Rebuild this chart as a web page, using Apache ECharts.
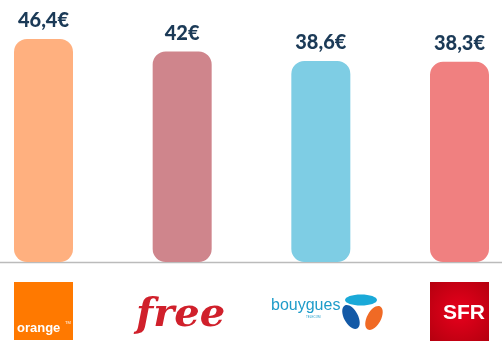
<!DOCTYPE html>
<html>
<head>
<meta charset="utf-8">
<script src="https://cdn.jsdelivr.net/npm/echarts@6/dist/echarts.min.js"></script>
<style>html,body{margin:0;padding:0;background:#fff}#c{width:502px;height:358px}</style>
</head>
<body>
<div id="c"></div>
<script>
var operators = ['Orange', 'Free', 'Bouygues Telecom', 'SFR'];
var prices = [46.4, 42, 38.6, 38.3];
var barColors = ['#FFB07F', '#CF858C', '#7ECDE4', '#F08080'];
var axisMin = -32.7;

var chart = echarts.init(document.getElementById('c'));
chart.setOption({
  animation: false,
  grid: { left: 43.5, right: 42.5, top: 39, bottom: 96 },
  xAxis: {
    type: 'category', data: operators, boundaryGap: false,
    axisLine: { show: false }, axisTick: { show: false }, axisLabel: { show: false }
  },
  yAxis: {
    type: 'value', min: axisMin, max: 46.4,
    show: false, splitLine: { show: false }
  },
  series: [{
    type: 'custom',
    data: prices.map(function (v, i) { return [i, v]; }),
    renderItem: function (params, api) {
      var i = api.value(0), v = api.value(1);
      var top = api.coord([i, v]);
      var base = api.coord([i, axisMin]);
      var w = 59;
      return {
        type: 'group',
        children: [
          { type: 'rect', shape: { x: top[0] - w / 2, y: top[1], width: w, height: base[1] - top[1], r: 13 },
            style: { fill: barColors[params.dataIndex] } },
          { type: 'text', x: top[0], y: top[1] - 8,
            style: { text: String(v).replace('.', ',') + '€', fill: '#1B3A57',
                     font: '900 20px Lato', align: 'center', verticalAlign: 'bottom' } }
        ]
      };
    }
  }],
  graphic: [
    { type: 'line', shape: { x1: 0, y1: 262.5, x2: 502, y2: 262.5 }, style: { stroke: '#BBBBBB', lineWidth: 1.5 } },
    // Orange logo
    { type: 'rect', shape: { x: 14, y: 282, width: 59, height: 58 }, style: { fill: '#FF7900' } },
    { type: 'text', x: 17, y: 335, style: { text: 'orange', fill: '#fff', font: 'bold 13px "Liberation Sans"', textVerticalAlign: 'bottom' } },
    { type: 'text', x: 65, y: 321, style: { text: 'TM', fill: '#fff', font: '4px "Liberation Sans"' } },
    // Free logo
    { type: 'text', x: 136, y: 336, style: { text: 'free', fill: '#D0202B', font: 'italic bold 40px "DejaVu Serif"', textVerticalAlign: 'bottom' } },
    // Bouygues logo
    { type: 'text', x: 271, y: 314, style: { text: 'bouygues', fill: '#1E9CC9', font: '16px "Liberation Sans"', textVerticalAlign: 'bottom' } },
    { type: 'text', x: 306, y: 316, style: { text: 'TELECOM', fill: '#1E9CC9', font: '3px "Liberation Sans"' } },
    { type: 'ellipse', shape: { cx: 361, cy: 300, rx: 16, ry: 5.5 }, style: { fill: '#1AA9D8' } },
    { type: 'ellipse', shape: { cx: 0, cy: 0, rx: 7, ry: 13 }, x: 351, y: 317, rotation: 0.5, style: { fill: '#1359A6' } },
    { type: 'ellipse', shape: { cx: 0, cy: 0, rx: 7, ry: 13 }, x: 374, y: 318, rotation: -0.5, style: { fill: '#F06A25' } },
    // SFR logo
    { type: 'rect', shape: { x: 430, y: 282, width: 59, height: 59 },
      style: { fill: new echarts.graphic.RadialGradient(0.5, 0.5, 0.7, [{ offset: 0, color: '#E8001C' }, { offset: 1, color: '#B5000F' }]) } },
    { type: 'text', x: 464, y: 313, style: { text: 'SFR', fill: '#fff', font: 'bold 21px "Liberation Sans"', textAlign: 'center', textVerticalAlign: 'middle' } }
  ]
});
</script>
</body>
</html>
